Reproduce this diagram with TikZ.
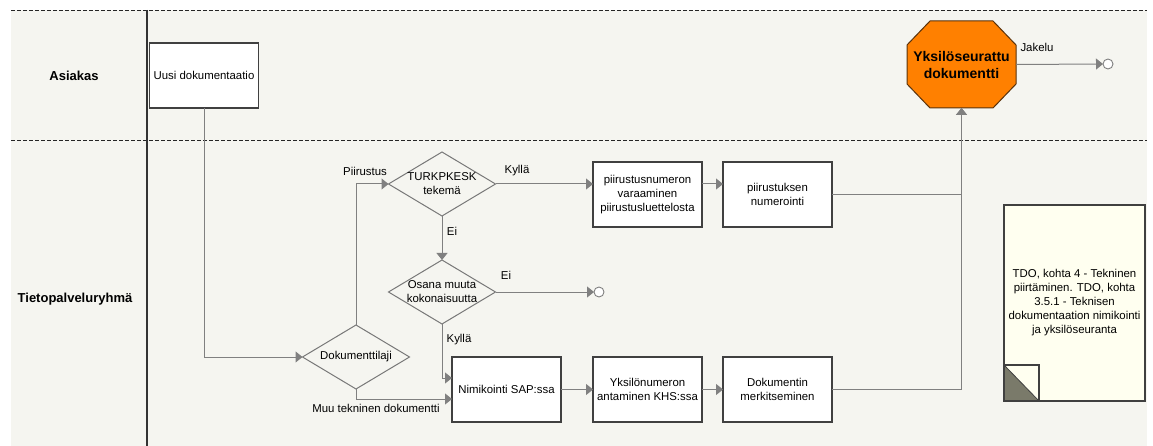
\documentclass[tikz,border=0pt]{standalone}
\usepackage{fontspec}
\setmainfont{Liberation Sans}
\usepackage{xcolor}
\usepackage{tikz}
\definecolor{lanebg}{RGB}{245,245,240}
\definecolor{boxline}{RGB}{64,64,64}
\definecolor{dialine}{RGB}{120,120,120}
\definecolor{linegray}{RGB}{128,128,128}
\definecolor{octfill}{RGB}{255,128,0}
\definecolor{octline}{RGB}{90,50,10}
\definecolor{noteyellow}{RGB}{255,255,240}
\definecolor{foldgray}{RGB}{122,122,106}
\tikzset{
    box/.style={draw=boxline, fill=white, line width=1.1pt,
               minimum width=109pt, minimum height=65pt,
               align=center, inner sep=0pt, outer sep=0pt},
  decision/.style={diamond, draw=dialine, line width=1pt,
                   minimum width=107pt, minimum height=64pt,
                   aspect=1.67, inner sep=0pt, outer sep=0pt},
  endpt/.style={circle, draw=linegray, fill=white, line width=0.9pt,
                minimum size=10pt, inner sep=0pt, outer sep=0pt},
  lbl/.style={inner sep=1pt, align=center},
  lane/.style={font=\fontsize{13}{16}\selectfont\bfseries},
  octagon/.style={draw=octline, fill=octfill, line width=1pt},
  octtext/.style={minimum width=109pt, minimum height=87pt, align=center,
                  inner sep=0pt, outer sep=0pt,
                  font=\fontsize{14}{17}\selectfont\bfseries},
  note/.style={draw=boxline, fill=noteyellow, line width=1.1pt,
               minimum width=141pt, minimum height=196pt,
               align=center, inner sep=0pt, outer sep=0pt},
  lanesep/.style={draw=black!85, line width=0.9pt, dash pattern=on 4pt off 2pt},
  laneline/.style={draw=black!80, line width=1.1pt},
  arrow/.style={-{Triangle[length=7pt, width=11pt]}, draw=linegray, line width=1pt}
}
\usetikzlibrary{
  positioning, shapes.geometric, arrows.meta
}

\begin{document}
\begin{tikzpicture}[x=1pt, y=-1pt, font=\fontsize{11.4}{14}\selectfont]
    \useasboundingbox (0,0) rectangle (1153,446);
    % swimlanes
    \fill[lanebg] (11,10) rectangle (1147,446);
    \draw[lanesep] (11,10) -- (1147,10);
    \draw[lanesep] (11,140) -- (1147,140);
    \draw[laneline] (147,10) -- (147,446);
    \node[lane] (asiakas) at (74,76) {Asiakas};
    \node[lane] (tpr) at (75,299) {Tietopalveluryhmä};

    % steps
    \node[box] (uusi) at (204,75.5) {Uusi dokumentaatio};
    \node[decision, label={[lbl]center:Dokumenttilaji}] (laji) at (356,357) {};
    \node[decision, label={[lbl]center:TURKPKESK\\tekemä}] (turk) at (442,184) {};
    \node[decision, label={[lbl]center:Osana muuta\\kokonaisuutta}] (osana) at (442,292) {};
    \node[box] (varaus) at (647.5,194.5) {piirustusnumeron\\varaaminen\\piirustusluettelosta};
    \node[box, right=21pt of varaus] (numer) {piirustuksen\\numerointi};
    \node[box] (yksnum) at (647.5,389.5) {Yksilönumeron\\antaminen KHS:ssa};
    \node[box, left=32pt of yksnum] (nimi) {Nimikointi SAP:ssa};
    \node[box, right=21pt of yksnum] (merk) {Dokumentin\\merkitseminen};
    \node[endpt] (loppu1) at (599,292) {};

    % result and note
    \draw[octagon, shift={(961.5,64.5)}] (-31.5,-43.5) -- (31.5,-43.5) -- (54.5,-19.5)
        -- (54.5,19.5) -- (31.5,43.5) -- (-31.5,43.5) -- (-54.5,19.5) -- (-54.5,-19.5) -- cycle;
    \node[octtext] (yks) at (961.5,64.5) {Yksilöseurattu\\dokumentti};
    \node[endpt] (loppu2) at (1108,64) {};
    \node[note] (tdo) at (1074.5,303) {TDO, kohta 4 - Tekninen\\piirtäminen. TDO, kohta\\3.5.1 - Teknisen\\dokumentaation nimikointi\\ja yksilöseuranta};
    \fill[noteyellow] (tdo.south west) rectangle ++(35,-36);
    \fill[foldgray] (tdo.south west) -- ++(0,-36) -- ++(35,36) -- cycle;
    \draw[boxline, line width=1.1pt] (tdo.south west) rectangle ++(35,-36);
    \draw[boxline, line width=0.8pt] (tdo.south west) ++(0,-36) -- ++(35,36);

    % flow
    \draw[arrow] (uusi.south) |- (laji.west);
    \draw[arrow] (laji.north) |- (turk.west);
    \draw[arrow] (turk.east) -- (varaus.west |- turk.east);
    \draw[arrow] (varaus.east |- turk.east) -- (numer.west |- turk.east);
    \draw[arrow] (numer.east) -| (yks.south);
    \draw[arrow] (turk.south) -- (osana.north);
    \draw[arrow] (osana.east) -- (loppu1.west);
    \draw[arrow] (osana.south) |- ([yshift=11.5pt]nimi.west);
    \draw[arrow] (laji.south) |- ([yshift=-9.5pt]nimi.west);
    \draw[arrow] (nimi) -- (yksnum);
    \draw[arrow] (yksnum) -- (merk);
    \draw[arrow] (merk.east) -| (yks.south);
    \draw[arrow] (yks.east) -- (loppu2.west);

    % labels
    \node[lbl] (lpiir) at (365,171) {Piirustus};
    \node[lbl] (lkylla1) at (517,171) {Kyllä};
    \node[lbl] (lei1) at (452,231) {Ei};
    \node[lbl] (lei2) at (506,275) {Ei};
    \node[lbl] (lkylla2) at (459,340) {Kyllä};
    \node[lbl] (lmuu) at (376,408) {Muu tekninen dokumentti};
    \node[lbl] (ljakelu) at (1037,47) {Jakelu};
\end{tikzpicture}
\end{document}
